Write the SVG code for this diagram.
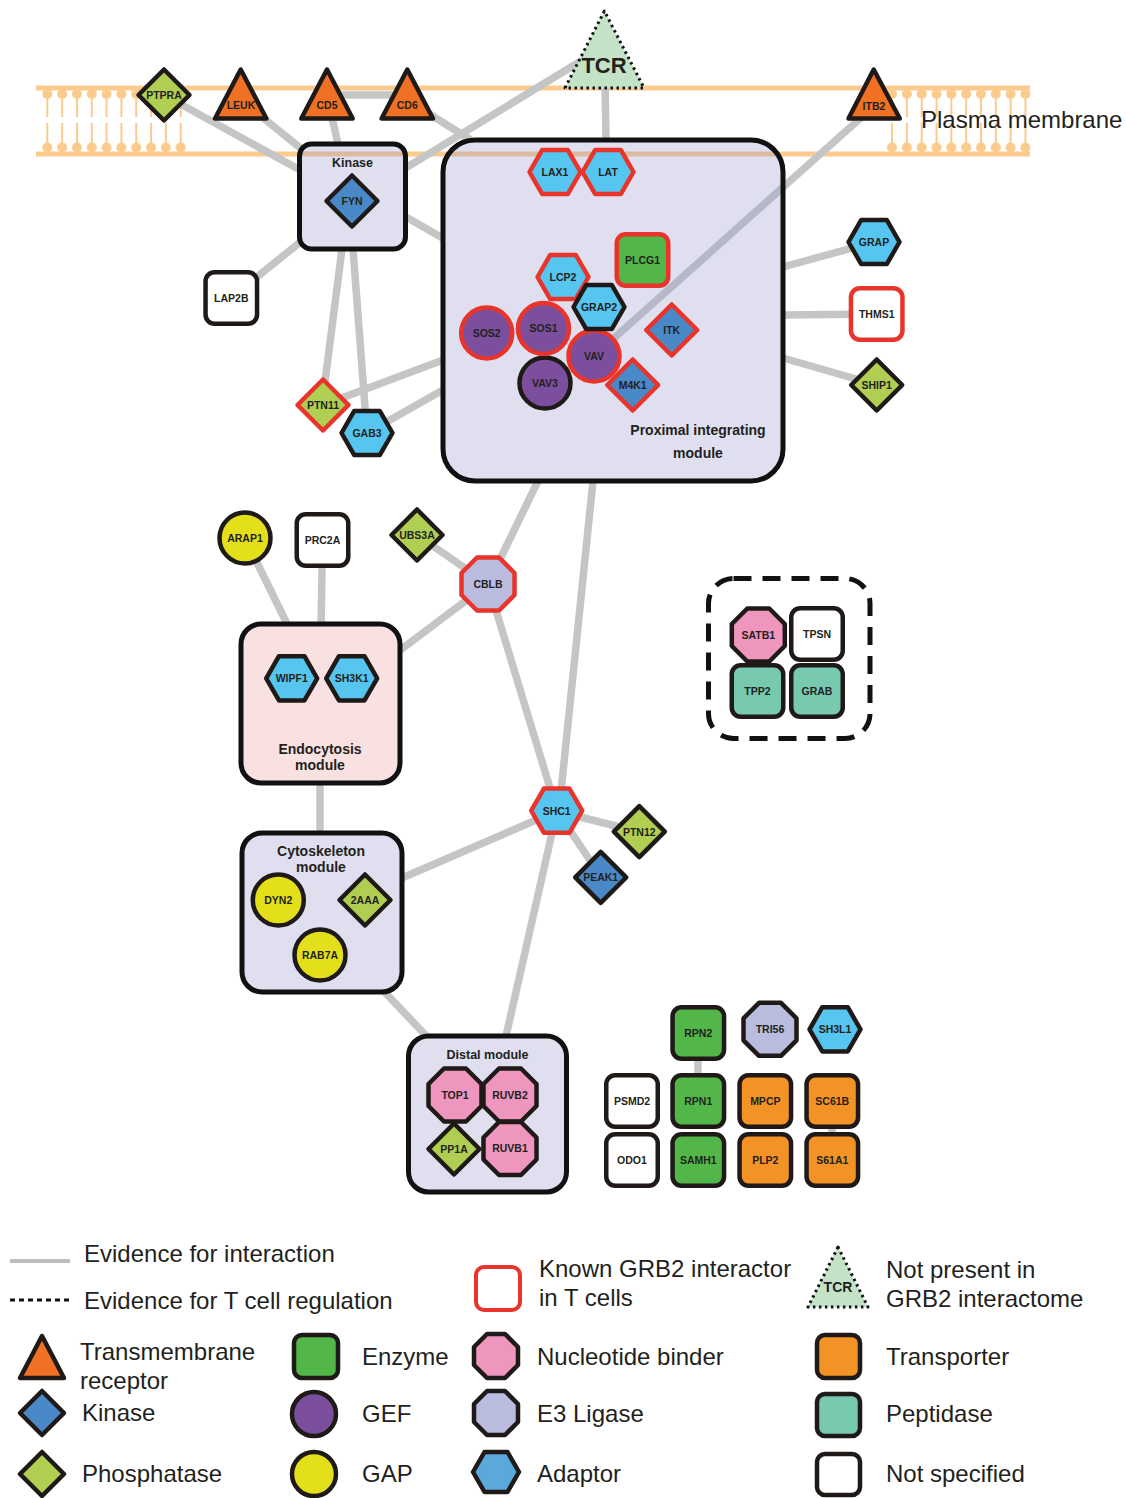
<svg xmlns="http://www.w3.org/2000/svg" xmlns:xlink="http://www.w3.org/1999/xlink" width="1126" height="1498" viewBox="0 0 1126 1498">
<style>
.n{stroke:#1F1A17;stroke-width:4.5;stroke-linejoin:round}
.r{stroke:#E8342B}
.ad{fill:#56C5EF}.ki{fill:#4A89C8}.ph{fill:#AFCE52}.tm{fill:#F07124}.en{fill:#52B748}.gef{fill:#7B4F9E}.gap{fill:#E3E01B}.nu{fill:#EF96BF}.e3{fill:#B9BBDF}.tr{fill:#F39325}.pe{fill:#77C9B0}.ns{fill:#FFFFFF}
.t{font-family:"Liberation Sans",Arial,sans-serif;font-weight:bold;font-size:10.5px;text-anchor:middle;fill:#231F20}
.mt{font-family:"Liberation Sans",Arial,sans-serif;font-weight:bold;font-size:14px;text-anchor:middle;fill:#231F20}
.lg{font-family:"Liberation Sans",Arial,sans-serif;font-size:24px;fill:#231F20}
.mod{stroke:#111;stroke-width:5}
.memb{stroke:#FACB8D;stroke-width:5}
</style>
<defs>
<path id="hex" d="M-25.5,0 L-12.75,-22.1 L12.75,-22.1 L25.5,0 L12.75,22.1 L-12.75,22.1Z"/>
<path id="oct" d="M-11,-26.5 L11,-26.5 L26.5,-11 L26.5,11 L11,26.5 L-11,26.5 L-26.5,11 L-26.5,-11Z"/>
<path id="dia" d="M0,-25.5 L25.5,0 L0,25.5 L-25.5,0Z"/>
<rect id="sq" x="-25.75" y="-25.75" width="51.5" height="51.5" rx="9"/>
<circle id="cir" r="25.5"/>
<pattern id="lip" patternUnits="userSpaceOnUse" x="40.4" y="0" width="14.82" height="200">
<g fill="#FACB8D" stroke="#FACB8D" stroke-width="2">
<circle cx="6.9" cy="94" r="5" stroke="none"/>
<line x1="6.9" y1="94" x2="6.9" y2="117"/>
<line x1="6.9" y1="123" x2="6.9" y2="147"/>
<circle cx="6.9" cy="147.5" r="5" stroke="none"/>
</g>
</pattern>
</defs>

<g id="membrane">
<rect x="40.4" y="86" width="148.2" height="70" fill="url(#lip)"/>
<rect x="885.1" y="86" width="148.2" height="70" fill="url(#lip)"/>
<line class="memb" x1="36" y1="88" x2="1030" y2="88"/>
<line class="memb" x1="36" y1="154" x2="1030" y2="154"/>
<text class="lg" x="921" y="128">Plasma membrane</text>
</g>

<g id="connectors" stroke="#C4C6C5" stroke-width="7.5" fill="none">
<line x1="164" y1="95" x2="299.5" y2="169.7"/>
<line x1="241" y1="100" x2="301" y2="148.5"/>
<line x1="328" y1="100" x2="338" y2="144"/>
<line x1="327" y1="95" x2="407" y2="95"/>
<line x1="407" y1="100" x2="471" y2="140"/>
<line x1="405.5" y1="168" x2="590" y2="55.5"/>
<line x1="405.5" y1="216.7" x2="443" y2="238.3"/>
<line x1="301" y1="241.5" x2="231" y2="298"/>
<line x1="342" y1="249" x2="322" y2="405"/>
<line x1="353" y1="249" x2="367" y2="433"/>
<line x1="323" y1="405" x2="443" y2="360"/>
<line x1="367" y1="433" x2="443" y2="390"/>
<line x1="605" y1="80" x2="606" y2="140"/>
<line x1="873" y1="107" x2="594" y2="356"/>
<line x1="783" y1="267" x2="874" y2="242"/>
<line x1="783" y1="315" x2="877" y2="314"/>
<line x1="783" y1="358" x2="877" y2="385"/>
<line x1="538" y1="481" x2="488" y2="584"/>
<line x1="593" y1="481" x2="559" y2="811"/>
<line x1="417" y1="535" x2="488" y2="584"/>
<line x1="488" y1="584" x2="395" y2="654"/>
<line x1="488" y1="584" x2="557" y2="811"/>
<line x1="245" y1="538" x2="290" y2="630"/>
<line x1="322.5" y1="540" x2="321" y2="630"/>
<line x1="320" y1="775" x2="320" y2="840"/>
<line x1="395" y1="881" x2="557" y2="811"/>
<line x1="557" y1="811" x2="639" y2="832"/>
<line x1="557" y1="811" x2="601" y2="877"/>
<line x1="557" y1="811" x2="504" y2="1045"/>
<line x1="378" y1="985" x2="432" y2="1042"/>
<line x1="698" y1="1033" x2="698" y2="1101"/>
<line x1="832" y1="1101" x2="832" y2="1160"/>
</g>

<g id="module-kinase">
<rect class="mod" x="299.5" y="144" width="106" height="105" rx="12" fill="#9494CD" fill-opacity="0.3" stroke-width="4.5"/>
<text class="t" x="352.5" y="167" style="font-size:12.5px">Kinase</text>
</g>
<g id="module-proximal">
<rect class="mod" x="443" y="140" width="340" height="341" rx="32" fill="#9494CD" fill-opacity="0.3" stroke-width="5.5"/>
<text class="mt" x="698" y="435">Proximal integrating</text>
<text class="mt" x="698" y="458">module</text>
</g>
<g id="module-endocytosis">
<rect class="mod" x="241" y="624" width="159" height="159" rx="20" fill="#FAE1E1"/>
<text class="mt" x="320" y="754">Endocytosis</text>
<text class="mt" x="320" y="770">module</text>
</g>
<g id="module-cytoskeleton">
<rect class="mod" x="242" y="833" width="160" height="159" rx="20" fill="#DFDFEF"/>
<text class="mt" x="321" y="856">Cytoskeleton</text>
<text class="mt" x="321" y="872">module</text>
</g>
<g id="module-distal">
<rect class="mod" x="408.5" y="1036" width="158" height="156" rx="20" fill="#DFDFEF"/>
<text class="mt" x="487.5" y="1059" style="font-size:12.5px">Distal module</text>
</g>
<g id="module-dashed">
<rect x="708.5" y="578.5" width="161.5" height="160" rx="25" fill="none" stroke="#111" stroke-width="5" stroke-dasharray="18 11"/>
</g>

<g id="n-PTPRA"><use href="#dia" x="164" y="95" class="n ph"/><text class="t" x="164" y="98.8">PTPRA</text></g>
<g id="n-LEUK"><polygon class="n tm" points="240.7,69.5 215,118.5 266.4,118.5"/><text class="t" x="241" y="109">LEUK</text></g>
<g id="n-CD5"><polygon class="n tm" points="327,69.5 301.3,118.5 352.7,118.5"/><text class="t" x="327" y="109">CD5</text></g>
<g id="n-CD6"><polygon class="n tm" points="407.3,69.5 381.6,118.5 433,118.5"/><text class="t" x="407.3" y="109">CD6</text></g>
<g id="n-TCR"><polygon points="604.4,11 565,88 644,88" fill="#C3E2C6" stroke="#111" stroke-width="3" stroke-dasharray="2.5 3.5" stroke-linejoin="round"/><text class="t" x="604" y="72.5" style="font-size:22px">TCR</text></g>
<g id="n-ITB2"><polygon class="n tm" points="873.7,69.5 848.5,118.5 899.8,118.5"/><text class="t" x="874" y="110">ITB2</text></g>

<g id="n-FYN"><use href="#dia" x="352" y="201" class="n ki"/><text class="t" x="352" y="204.8">FYN</text></g>

<g id="n-LAX1"><use href="#hex" x="555" y="172" class="n ad r"/><text class="t" x="555" y="175.8">LAX1</text></g>
<g id="n-LAT"><use href="#hex" x="608" y="172" class="n ad r"/><text class="t" x="608" y="175.8">LAT</text></g>
<g id="n-PLCG1"><use href="#sq" x="642.5" y="260" class="n en r"/><text class="t" x="642.5" y="263.8">PLCG1</text></g>
<g id="n-SOS2"><use href="#cir" x="486.7" y="333" class="n gef r"/><text class="t" x="486.7" y="336.8">SOS2</text></g>
<g id="n-VAV3"><use href="#cir" x="545" y="383" class="n gef"/><text class="t" x="545" y="386.8">VAV3</text></g>
<g id="n-SOS1"><use href="#cir" x="543.5" y="328.5" class="n gef r"/><text class="t" x="543.5" y="332.3">SOS1</text></g>
<g id="n-M4K1"><use href="#dia" x="632.7" y="385" class="n ki r"/><text class="t" x="632.7" y="388.8">M4K1</text></g>
<g id="n-VAV"><use href="#cir" x="594" y="356" class="n gef r"/><text class="t" x="594" y="359.8">VAV</text></g>
<g id="n-LCP2"><use href="#hex" x="563" y="277" class="n ad r"/><text class="t" x="563" y="280.8">LCP2</text></g>
<g id="n-GRAP2"><use href="#hex" x="599" y="307" class="n ad"/><text class="t" x="599" y="310.8">GRAP2</text></g>
<g id="n-ITK"><use href="#dia" x="671.7" y="330" class="n ki r"/><text class="t" x="671.7" y="333.8">ITK</text></g>

<g id="n-GRAP"><use href="#hex" x="874" y="242" class="n ad"/><text class="t" x="874" y="245.8">GRAP</text></g>
<g id="n-THMS1"><use href="#sq" x="876.7" y="314" class="n ns r"/><text class="t" x="876.7" y="317.8">THMS1</text></g>
<g id="n-SHIP1"><use href="#dia" x="876.7" y="385" class="n ph"/><text class="t" x="876.7" y="388.8">SHIP1</text></g>

<g id="n-LAP2B"><use href="#sq" x="231.3" y="298" class="n ns"/><text class="t" x="231.3" y="301.8">LAP2B</text></g>
<g id="n-PTN11"><use href="#dia" x="323" y="405" class="n ph r"/><text class="t" x="323" y="408.8">PTN11</text></g>
<g id="n-GAB3"><use href="#hex" x="367" y="433" class="n ad"/><text class="t" x="367" y="436.8">GAB3</text></g>

<g id="n-ARAP1"><use href="#cir" x="245" y="538" class="n gap"/><text class="t" x="245" y="541.8">ARAP1</text></g>
<g id="n-PRC2A"><use href="#sq" x="322.5" y="540" class="n ns"/><text class="t" x="322.5" y="543.8">PRC2A</text></g>
<g id="n-UBS3A"><use href="#dia" x="417" y="535" class="n ph"/><text class="t" x="417" y="538.8">UBS3A</text></g>
<g id="n-CBLB"><use href="#oct" x="488" y="584" class="n e3 r"/><text class="t" x="488" y="587.8">CBLB</text></g>

<g id="n-WIPF1"><use href="#hex" x="291.7" y="678.3" class="n ad"/><text class="t" x="291.7" y="682.1">WIPF1</text></g>
<g id="n-SH3K1"><use href="#hex" x="351.7" y="678.3" class="n ad"/><text class="t" x="351.7" y="682.1">SH3K1</text></g>

<g id="n-DYN2"><use href="#cir" x="278.3" y="900" class="n gap"/><text class="t" x="278.3" y="903.8">DYN2</text></g>
<g id="n-2AAA"><use href="#dia" x="365" y="900" class="n ph"/><text class="t" x="365" y="903.8">2AAA</text></g>
<g id="n-RAB7A"><use href="#cir" x="320" y="955" class="n gap"/><text class="t" x="320" y="958.8">RAB7A</text></g>

<g id="n-SHC1"><use href="#hex" x="556.7" y="810.7" class="n ad r"/><text class="t" x="556.7" y="814.5">SHC1</text></g>
<g id="n-PTN12"><use href="#dia" x="639.3" y="831.7" class="n ph"/><text class="t" x="639.3" y="835.5">PTN12</text></g>
<g id="n-PEAK1"><use href="#dia" x="600.7" y="877.3" class="n ki"/><text class="t" x="600.7" y="881.1">PEAK1</text></g>

<g id="n-SATB1"><use href="#oct" x="758.3" y="635" class="n nu"/><text class="t" x="758.3" y="638.8">SATB1</text></g>
<g id="n-TPSN"><use href="#sq" x="817" y="634" class="n ns"/><text class="t" x="817" y="637.8">TPSN</text></g>
<g id="n-TPP2"><use href="#sq" x="757.5" y="691" class="n pe"/><text class="t" x="757.5" y="694.8">TPP2</text></g>
<g id="n-GRAB"><use href="#sq" x="817" y="691" class="n pe"/><text class="t" x="817" y="694.8">GRAB</text></g>

<g id="n-TOP1"><use href="#oct" x="455" y="1095" class="n nu"/><text class="t" x="455" y="1098.8">TOP1</text></g>
<g id="n-RUVB2"><use href="#oct" x="510" y="1095" class="n nu"/><text class="t" x="510" y="1098.8">RUVB2</text></g>
<g id="n-PP1A"><use href="#dia" x="454" y="1149" class="n ph"/><text class="t" x="454" y="1152.8">PP1A</text></g>
<g id="n-RUVB1"><use href="#oct" x="510" y="1148.5" class="n nu"/><text class="t" x="510" y="1152.3">RUVB1</text></g>

<g id="n-RPN2"><use href="#sq" x="698.3" y="1033" class="n en"/><text class="t" x="698.3" y="1036.8">RPN2</text></g>
<g id="n-TRI56"><use href="#oct" x="770" y="1029.3" class="n e3"/><text class="t" x="770" y="1033.1">TRI56</text></g>
<g id="n-SH3L1"><use href="#hex" x="835" y="1029.3" class="n ad"/><text class="t" x="835" y="1033.1">SH3L1</text></g>
<g id="n-PSMD2"><use href="#sq" x="632" y="1101" class="n ns"/><text class="t" x="632" y="1104.8">PSMD2</text></g>
<g id="n-RPN1"><use href="#sq" x="698.3" y="1101" class="n en"/><text class="t" x="698.3" y="1104.8">RPN1</text></g>
<g id="n-MPCP"><use href="#sq" x="765.3" y="1101" class="n tr"/><text class="t" x="765.3" y="1104.8">MPCP</text></g>
<g id="n-SC61B"><use href="#sq" x="832.3" y="1101" class="n tr"/><text class="t" x="832.3" y="1104.8">SC61B</text></g>
<g id="n-ODO1"><use href="#sq" x="632" y="1160" class="n ns"/><text class="t" x="632" y="1163.8">ODO1</text></g>
<g id="n-SAMH1"><use href="#sq" x="698.3" y="1160" class="n en"/><text class="t" x="698.3" y="1163.8">SAMH1</text></g>
<g id="n-PLP2"><use href="#sq" x="765.3" y="1160" class="n tr"/><text class="t" x="765.3" y="1163.8">PLP2</text></g>
<g id="n-S61A1"><use href="#sq" x="832.3" y="1160" class="n tr"/><text class="t" x="832.3" y="1163.8">S61A1</text></g>

<g id="legend">
<line x1="10" y1="1261" x2="70" y2="1261" stroke="#BDBDBD" stroke-width="4"/>
<text class="lg" x="84" y="1262">Evidence for interaction</text>
<line x1="10" y1="1300" x2="70" y2="1300" stroke="#111" stroke-width="3" stroke-dasharray="5 4"/>
<text class="lg" x="84" y="1309">Evidence for T cell regulation</text>
<polygon class="n tm" points="42,1336 20,1378 64,1378"/>
<text class="lg" x="80" y="1360">Transmembrane</text>
<text class="lg" x="80" y="1389">receptor</text>
<path class="n ki" d="M42,1391 L64,1413 L42,1435 L20,1413Z"/>
<text class="lg" x="82" y="1421">Kinase</text>
<path class="n ph" d="M42,1452 L64,1474 L42,1496 L20,1474Z"/>
<text class="lg" x="82" y="1482">Phosphatase</text>
<rect class="n en" x="294" y="1335" width="44" height="43" rx="8"/>
<text class="lg" x="362" y="1365">Enzyme</text>
<circle class="n gef" cx="314" cy="1414" r="22"/>
<text class="lg" x="362" y="1422">GEF</text>
<circle class="n gap" cx="314" cy="1474" r="22"/>
<text class="lg" x="362" y="1482">GAP</text>
<rect x="476" y="1267" width="44" height="43" rx="8" fill="#fff" stroke="#E8342B" stroke-width="4"/>
<text class="lg" x="539" y="1277">Known GRB2 interactor</text>
<text class="lg" x="539" y="1306">in T cells</text>
<path class="n nu" d="M487,1334 L505,1334 L518,1347 L518,1365 L505,1378 L487,1378 L474,1365 L474,1347Z"/>
<text class="lg" x="537" y="1365">Nucleotide binder</text>
<path class="n e3" d="M487,1391 L505,1391 L518,1404 L518,1422 L505,1435 L487,1435 L474,1422 L474,1404Z"/>
<text class="lg" x="537" y="1422">E3 Ligase</text>
<path class="n" fill="#5BA8DA" d="M473,1472 L484.5,1452 L507.5,1452 L519,1472 L507.5,1492 L484.5,1492Z"/>
<text class="lg" x="537" y="1482">Adaptor</text>
<polygon points="838,1247 808,1307 868,1307" fill="#C3E2C6" stroke="#111" stroke-width="3" stroke-dasharray="2.5 3.5" stroke-linejoin="round"/>
<text class="t" x="838" y="1292" style="font-size:14px">TCR</text>
<text class="lg" x="886" y="1278">Not present in</text>
<text class="lg" x="886" y="1307">GRB2 interactome</text>
<rect class="n tr" x="817" y="1335" width="43" height="43" rx="8"/>
<text class="lg" x="886" y="1365">Transporter</text>
<rect class="n pe" x="817" y="1394" width="43" height="42" rx="8"/>
<text class="lg" x="886" y="1422">Peptidase</text>
<rect class="n ns" x="817" y="1454" width="43" height="41" rx="8"/>
<text class="lg" x="886" y="1482">Not specified</text>
</g>
</svg>
